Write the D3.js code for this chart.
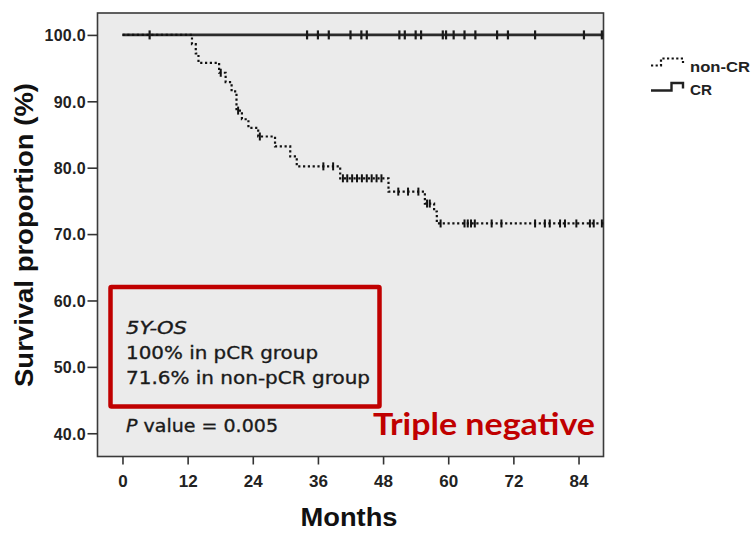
<!DOCTYPE html>
<html><head><meta charset="utf-8">
<script src="https://cdn.jsdelivr.net/npm/d3@7/dist/d3.min.js"></script>
<style>
html,body{margin:0;padding:0;background:#fff;}
svg{display:block;}
</style></head>
<body>
<svg id="chart" width="754" height="533"></svg>
<script>
// ---------- data ----------
const xTicks = [0, 12, 24, 36, 48, 60, 72, 84];
const yTicks = [40, 50, 60, 70, 80, 90, 100];
const seriesNames = ["non-CR", "CR"];

// CR group: no events, survival stays 100%; censored times (months)
const crCensorTimes = [5, 34, 36, 38, 42, 44, 45, 51, 52, 54, 55, 59, 59.6, 61, 63, 65, 69, 71, 76, 85, 88.3];
const crEnd = 88.6;

// non-CR group: event times (months) and survival (%) after each event
const nonCrEventTimes = [12.8, 13.5, 14.0, 17.8, 19.0, 20.1, 21.0, 22.0, 23.2, 25.0, 28.1, 30.9, 32.1, 40.1, 49.0, 55.7, 57.4, 57.9];
const nonCrSurvival   = [98.6, 97.2, 95.8, 94.3, 92.9, 91.5, 88.6, 87.3, 86.0, 84.7, 83.2, 81.7, 80.2, 78.4, 76.4, 74.6, 73.4, 71.6];
const nonCrCensorTimes = [18.1, 21.3, 25.3, 37.0, 38.8, 40.6, 41.4, 42.3, 43.2, 44.1, 45.0, 45.9, 46.8, 47.7,
  50.8, 52.6, 54.5, 56.1, 56.6, 58.6, 63.0, 63.6, 64.2, 64.9, 68.0, 69.8, 76.0, 77.8, 78.7, 80.6, 81.5, 83.6, 86.1, 86.8, 88.3];
const nonCrEnd = 88.6;

const boxLines = ["5Y-OS", "100% in pCR group", "71.6% in non-pCR group"];
const pValueText = "0.005";
const subgroup = "Triple negative";

// ---------- layout ----------
const svg = d3.select("#chart");
const x = d3.scaleLinear().domain([-4.6, 88.6]).range([97.5, 603.5]);
const y = d3.scaleLinear().domain([36.5, 103.3]).range([456.5, 13]);

const narrow = "'Liberation Sans Narrow','Arial Narrow','Liberation Sans',Arial,sans-serif";
const sans = "'Liberation Sans',Arial,Helvetica,sans-serif";

// plot background + frame
svg.append("rect")
  .attr("x", x(-4.6)).attr("y", y(103.3))
  .attr("width", x(88.6) - x(-4.6)).attr("height", y(36.5) - y(103.3))
  .attr("fill", "#ebebeb").attr("stroke", "#3a3a3a").attr("stroke-width", 1.6);

// axes
const xAxis = d3.axisBottom(x).tickValues(xTicks).tickSize(8).tickSizeOuter(0).tickFormat(d3.format("d"));
const gx = svg.append("g").attr("transform", `translate(0,${y(36.5)})`).call(xAxis);
gx.select(".domain").remove();
gx.selectAll(".tick line").attr("stroke", "#333").attr("stroke-width", 1.6);
gx.selectAll(".tick text").attr("fill", "#222").attr("font-family", narrow).attr("font-weight", "bold")
  .attr("font-size", 17).attr("dy", 0).attr("y", 30.5);

const yAxis = d3.axisLeft(y).tickValues(yTicks).tickSize(10).tickSizeOuter(0).tickFormat(d3.format(".1f"));
const gy = svg.append("g").attr("transform", `translate(${x(-4.6)},0)`).call(yAxis);
gy.select(".domain").remove();
gy.selectAll(".tick line").attr("stroke", "#333").attr("stroke-width", 1.6);
gy.selectAll(".tick text").attr("fill", "#222").attr("font-family", sans).attr("font-weight", "bold")
  .attr("font-size", 16).attr("x", -11.5).attr("dy", "0.36em").attr("letter-spacing", "0.3px");

// axis titles
svg.append("text").attr("transform", `translate(33,235) rotate(-90)`)
  .attr("text-anchor", "middle").attr("font-family", sans).attr("font-weight", "bold")
  .attr("font-size", 26).attr("fill", "#111")
  .attr("textLength", 304).attr("lengthAdjust", "spacingAndGlyphs")
  .text("Survival proportion (%)");
svg.append("text").attr("x", 349).attr("y", 526).attr("text-anchor", "middle")
  .attr("font-family", sans).attr("font-weight", "bold").attr("font-size", 26).attr("fill", "#111")
  .attr("textLength", 97).attr("lengthAdjust", "spacingAndGlyphs")
  .text("Months");

// ---------- curves ----------
function survAt(times, surv, t) {
  let s = 100;
  for (let i = 0; i < times.length; i++) if (times[i] <= t) s = surv[i];
  return s;
}
const stepLine = d3.line().x(d => x(d[0])).y(d => y(d[1])).curve(d3.curveStepAfter);

// CR (solid)
const crPts = [[0, 100], [crEnd, 100]];
svg.append("path").datum(crPts).attr("d", stepLine)
  .attr("fill", "none").attr("stroke", "#2a2a2a").attr("stroke-width", 2.6);
svg.append("g").selectAll("line").data(crCensorTimes).join("line")
  .attr("x1", d => x(d)).attr("x2", d => x(d))
  .attr("y1", y(100) - 4.5).attr("y2", y(100) + 4.5)
  .attr("stroke", "#1a1a1a").attr("stroke-width", 2.2);

// non-CR (dotted)
const ncPts = [[0, 100]].concat(nonCrEventTimes.map((t, i) => [t, nonCrSurvival[i]]))
  .concat([[nonCrEnd, nonCrSurvival[nonCrSurvival.length - 1]]]);
svg.append("path").datum(ncPts).attr("d", stepLine)
  .attr("fill", "none").attr("stroke", "#111").attr("stroke-width", 2.2)
  .attr("stroke-dasharray", "2.2,2.6");
svg.append("g").selectAll("line").data(nonCrCensorTimes).join("line")
  .attr("x1", d => x(d)).attr("x2", d => x(d))
  .attr("y1", d => y(survAt(nonCrEventTimes, nonCrSurvival, d)) - 4)
  .attr("y2", d => y(survAt(nonCrEventTimes, nonCrSurvival, d)) + 4)
  .attr("stroke", "#111").attr("stroke-width", 2);

// ---------- legend ----------
const lg = svg.append("g");
lg.append("path").attr("d", "M651,65.5 H661 V58.5 H683 V64")
  .attr("fill", "none").attr("stroke", "#111").attr("stroke-width", 2.2).attr("stroke-dasharray", "2.2,2.4");
lg.append("text").attr("x", 690).attr("y", 72).attr("font-family", sans).attr("font-weight", "bold")
  .attr("font-size", 15).attr("fill", "#222").attr("textLength", 60).attr("lengthAdjust", "spacingAndGlyphs")
  .text(seriesNames[0]);
lg.append("path").attr("d", "M651,90.5 H671.5 V83 H683 V88.5")
  .attr("fill", "none").attr("stroke", "#222").attr("stroke-width", 2.4);
lg.append("text").attr("x", 690).attr("y", 95).attr("font-family", sans).attr("font-weight", "bold")
  .attr("font-size", 15).attr("fill", "#222").attr("textLength", 22).attr("lengthAdjust", "spacingAndGlyphs")
  .text(seriesNames[1]);

// ---------- annotation box ----------
svg.append("rect").attr("x", 110.5).attr("y", 287).attr("width", 269).attr("height", 119.5)
  .attr("fill", "none").attr("stroke", "#c00000").attr("stroke-width", 4.5).attr("rx", 1);

const boxFont = "'DejaVu Sans',Verdana,sans-serif";
const boxWidths = [61, 192, 244];
const boxY = [333.5, 358.5, 383.5];
boxLines.forEach((s, i) => {
  svg.append("text").attr("x", 126).attr("y", boxY[i]).attr("font-family", boxFont)
    .attr("font-size", 18).attr("fill", "#1a1a1a").attr("stroke", "#1a1a1a").attr("stroke-width", 0.35)
    .attr("font-style", i === 0 ? "italic" : "normal")
    .attr("textLength", boxWidths[i]).attr("lengthAdjust", "spacingAndGlyphs")
    .text(s);
});
const pt = svg.append("text").attr("x", 126).attr("y", 431.5).attr("font-family", boxFont)
  .attr("font-size", 18).attr("fill", "#1a1a1a").attr("stroke", "#1a1a1a").attr("stroke-width", 0.35)
  .attr("textLength", 152).attr("lengthAdjust", "spacingAndGlyphs");
pt.append("tspan").attr("font-style", "italic").text("P");
pt.append("tspan").text(" value = " + pValueText);

svg.append("text").attr("x", 373).attr("y", 435).attr("font-family", "Lato,'Open Sans',sans-serif")
  .attr("font-weight", "bold").attr("font-size", 31).attr("fill", "#c00000")
  .attr("textLength", 222).attr("lengthAdjust", "spacingAndGlyphs")
  .text(subgroup);
</script>
</body></html>
